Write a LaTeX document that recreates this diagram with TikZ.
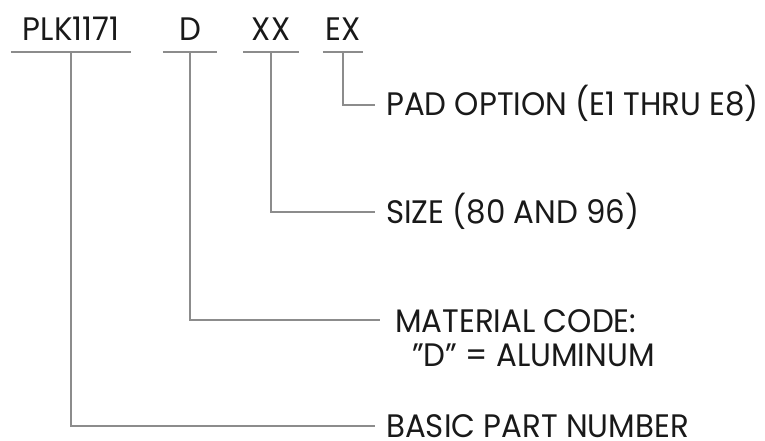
\documentclass[tikz,border=0pt]{standalone}
\usepackage{fontspec}
\setmainfont{Poppins}[FakeStretch=0.95]
\usetikzlibrary{positioning}

\begin{document}
\begin{tikzpicture}[
    x=1pt, y=-1pt,
    font=\fontsize{32.5}{34}\selectfont,
    code/.style={inner sep=0pt, text height=22pt, text depth=0pt, minimum height=44pt, text=black!90},
    desc/.style={anchor=west, inner xsep=11pt, inner ysep=0pt, text height=22pt, text depth=0pt, text=black!90},
    leader/.style={draw=black!45, line width=1.4pt}
]
\useasboundingbox (0,0) rectangle (765,441);

% Part number fields
\node[code, minimum width=120pt] (plk) at (71,30) {PLK1171};
\node[code, minimum width=54pt] (mat) at (190,30) {D};
\node[code, minimum width=55pt] (sz) at (271,30) {XX};
\node[code, minimum width=40pt] (pd) at (343,30) {EX};

% Descriptions
\node[desc] (padopt) at (375,105) {PAD OPTION (E1 THRU E8)};
\node[desc] (size) at (375,212) {SIZE (80 AND 96)};
\node[anchor=west, inner xsep=15pt, inner ysep=0pt, align=left, text=black!90] (matl) at (380,338) {MATERIAL CODE:\\\hspace{17pt}"D" = ALUMINUM};
\node[desc] (basic) at (375,426) {BASIC PART NUMBER};

% Underlines
\foreach \f in {plk,mat,sz,pd}
    \draw[leader] (\f.south west) -- (\f.south east);

% Leaders
\draw[leader] (pd.south) |- (padopt.west);
\draw[leader] (sz.south) |- (size.west);
\draw[leader] (mat.south) |- ([yshift=18pt]matl.west);
\draw[leader] (plk.south) |- (basic.west);

\end{tikzpicture}
\end{document}
